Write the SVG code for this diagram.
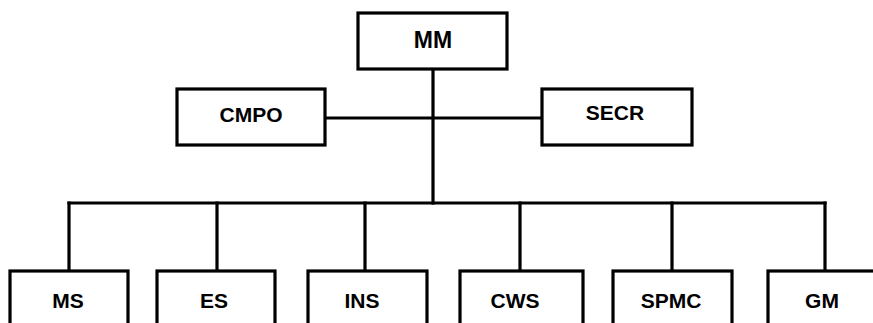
<svg xmlns="http://www.w3.org/2000/svg" width="873" height="323" viewBox="0 0 873 323">
<style>
.box{fill:#fff;stroke:#000;stroke-width:3.2}
.ln{fill:none;stroke:#000;stroke-width:3.2;stroke-linecap:square}
.t{font-family:"Liberation Sans",Arial,sans-serif;font-weight:bold;font-size:21px;text-anchor:middle;fill:#000}
</style>
<rect width="873" height="323" fill="#fff"/>
<g id="connectors">
<path class="ln" d="M433 69V203"/>
<path class="ln" d="M325 118H542"/>
<path class="ln" d="M69 203H825"/>
<path class="ln" d="M69 203V271M217 203V271M365 203V271M520 203V271M672 203V271M825 203V271"/>
</g>
<g id="MM"><rect class="box" x="358" y="13" width="149" height="56"/><text class="t" x="433" y="48" style="font-size:23px">MM</text></g>
<g id="CMPO"><rect class="box" x="177" y="89" width="148" height="56"/><text class="t" x="251" y="122">CMPO</text></g>
<g id="SECR"><rect class="box" x="542" y="89" width="150" height="56"/><text class="t" x="615" y="120">SECR</text></g>
<g id="MS"><rect class="box" x="10" y="271" width="118" height="70"/><text class="t" x="68" y="308">MS</text></g>
<g id="ES"><rect class="box" x="157" y="271" width="118" height="70"/><text class="t" x="214" y="308">ES</text></g>
<g id="INS"><rect class="box" x="308" y="271" width="119" height="70"/><text class="t" x="362" y="308">INS</text></g>
<g id="CWS"><rect class="box" x="460" y="271" width="123" height="70"/><text class="t" x="515" y="308">CWS</text></g>
<g id="SPMC"><rect class="box" x="613" y="271" width="119" height="70"/><text class="t" x="671" y="308">SPMC</text></g>
<g id="GM"><rect class="box" x="768" y="271" width="120" height="70"/><text class="t" x="822" y="308">GM</text></g>
</svg>
